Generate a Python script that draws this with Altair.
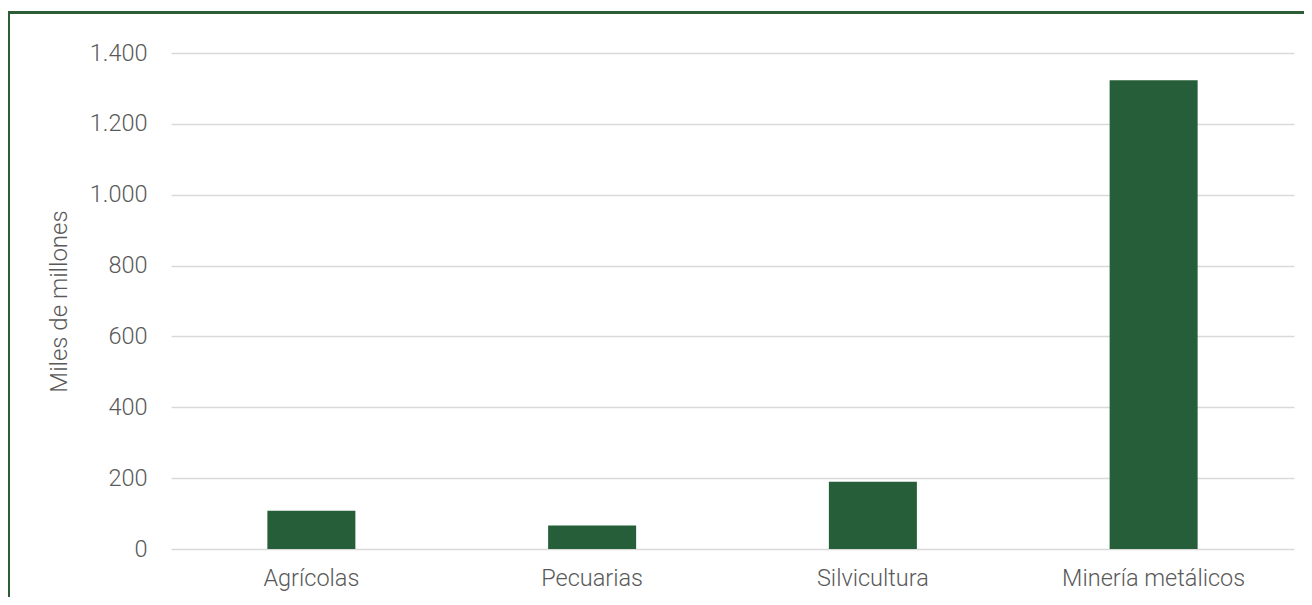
import altair as alt
import pandas as pd

categories = ["Agrícolas", "Pecuarias", "Silvicultura", "Minería metálicos"]
values = [108, 66, 190, 1323]
y_ticks = [0, 200, 400, 600, 800, 1000, 1200, 1400]

df = pd.DataFrame({"cat": categories, "val": values})

FONT = "Roboto"
BAR = "#255E38"
BORDER = "#2E5E35"
TXT = "#595959"

bars = alt.Chart(df).mark_bar(size=88, color=BAR).encode(
    x=alt.X("cat:N", sort=categories, title=None,
            scale=alt.Scale(paddingInner=0, paddingOuter=0),
            axis=alt.Axis(labelAngle=0, labelFont=FONT, labelFontSize=23.5, labelFontWeight=300,
                          labelColor=TXT, labelPadding=17, labelLimit=400, ticks=False,
                          domain=False, grid=False)),
    y=alt.Y("val:Q", title="Miles de millones",
            scale=alt.Scale(domain=[0, 1400], nice=False),
            axis=alt.Axis(values=y_ticks, format=",d", labelFont=FONT, labelFontSize=23.5,
                          labelFontWeight=300, labelColor=TXT, labelPadding=24,
                          ticks=False, domain=False, gridColor="#D9D9D9", gridWidth=1.5,
                          titleFont=FONT, titleFontSize=24, titleFontWeight=300,
                          titleColor=TXT, titlePadding=18)),
)

left_border = alt.Chart(df).mark_rule(color=BORDER, strokeWidth=3, clip=False).encode(
    x=alt.value(-162.5), y=alt.value(-41), y2=alt.value(560)
)
top_border = alt.Chart(df).mark_rule(color=BORDER, strokeWidth=3, clip=False).encode(
    x=alt.value(-164), x2=alt.value(1200), y=alt.value(-40.5)
)

chart = alt.layer(bars, left_border, top_border).properties(
    width=1123, height=496,
    autosize=alt.AutoSizeParams(type="none"),
    padding={"left": 163, "top": 45, "right": 10, "bottom": 48},
).configure(
    locale={"number": {"decimal": ",", "thousands": ".", "grouping": [3], "currency": ["$", ""]}},
    view=alt.ViewConfig(stroke=None),
)

chart.save("out.html", embed_options={"renderer": "svg", "actions": False})
